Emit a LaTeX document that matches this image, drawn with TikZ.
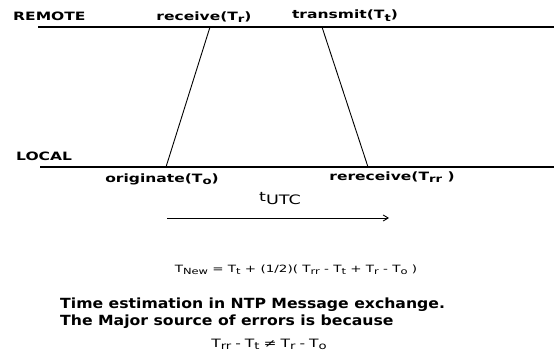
\documentclass[tikz,border=0pt]{standalone}
\usepackage{fontspec}
\setmainfont{DejaVu Sans}
\newfontfamily\widefont{DejaVu Sans}[FakeStretch=1.35]
\newfontfamily\capfont{DejaVu Sans}[FakeStretch=1.12]
\usetikzlibrary{arrows.meta,positioning}
\newcommand{\subtx}[1]{\raisebox{-0.45ex}{\scalebox{0.85}{#1}}}
\newcommand{\opgap}[1]{\hspace{4pt}#1\hspace{4pt}}
\tikzset{
  timeline/.style={line width=1.4pt, draw=black},
  msgline/.style={line width=0.9pt, draw=black},
  sidelabel/.style={font=\widefont\bfseries\fontsize{11.5}{13}\selectfont, inner sep=0pt, anchor=base west},
  eventlabel/.style={font=\widefont\bfseries\fontsize{11.5}{13}\selectfont, inner sep=0pt, anchor=base},
  formula/.style={font=\widefont\fontsize{10}{12}\selectfont, inner sep=0pt, anchor=base},
  caption/.style={font=\capfont\bfseries\fontsize{14}{17}\selectfont, inner sep=0pt, anchor=base west},
  arrow/.style={-{Straight Barb[length=5pt,width=6pt]}, line width=0.9pt, draw=black}
}

\begin{document}
\begin{tikzpicture}[x=1pt, y=-1pt]
\useasboundingbox (0,0) rectangle (554,356);
% time lines
\coordinate (remoteL) at (38,27);
\coordinate (remoteR) at (554,27);
\coordinate (localL) at (40,167);
\coordinate (localR) at (554,167);
\draw[timeline] (remoteL) -- (remoteR);
\draw[timeline] (localL) -- (localR);
\node[sidelabel] (remote) at (13,20) {REMOTE};
\node[sidelabel] (local) at (16,160) {LOCAL};
% messages
\coordinate (recvpt) at (210,27);
\coordinate (origpt) at (166,167);
\coordinate (xmitpt) at (322,27);
\coordinate (rerecvpt) at (368,167);
\draw[msgline] (origpt) -- (recvpt);
\draw[msgline] (xmitpt) -- (rerecvpt);
\node[eventlabel] (recv) at (204,20) {receive(T\subtx{r})};
\node[eventlabel] (xmit) at (345,19) {transmit(T\subtx{t})};
\node[eventlabel] (orig) at (162,182) {originate(T\subtx{o})};
\node[eventlabel] (rerecv) at (392,180) {rereceive(T\subtx{rr} )};
% UTC time axis
\coordinate (utcL) at (167,218);
\coordinate (utcR) at (389,218);
\draw[arrow] (utcL) -- (utcR);
\node[eventlabel, font=\widefont\fontsize{13}{15}\selectfont] (utc) at (280,201) {t\raisebox{-0.45ex}{UTC}};
% estimate
\node[formula] (tnew) at (296,272) {T\subtx{New} = T\subtx{t} + (1/2)( T\subtx{rr} - T\subtx{t} + T\subtx{r} - T\subtx{o} )};
\node[caption] (caption) at (60,308) {Time estimation in NTP Message exchange.};
\node[caption] (because) at (60,325) {The Major source of errors is because};
\node[formula, font=\widefont\fontsize{11.5}{13}\selectfont] (cause) at (269,347) {T\subtx{rr}\opgap{-}T\subtx{t}\opgap{≠}T\subtx{r}\opgap{-}T\subtx{o}};
\end{tikzpicture}
\end{document}
